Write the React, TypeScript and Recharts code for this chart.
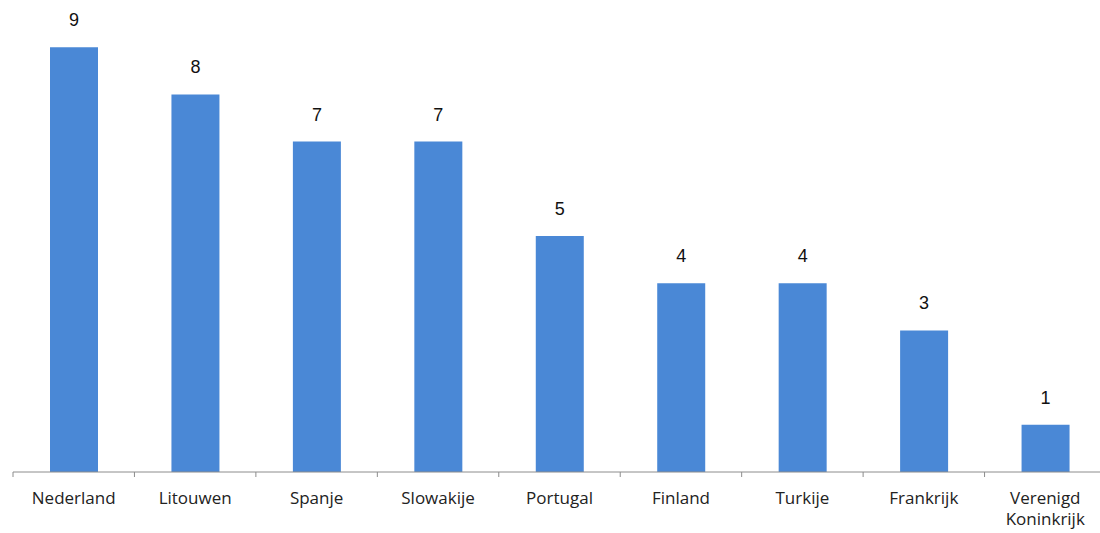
import React from 'react';
import { BarChart, Bar, XAxis, YAxis, LabelList } from 'recharts';

const countries = ['Nederland', 'Litouwen', 'Spanje', 'Slowakije', 'Portugal', 'Finland', 'Turkije', 'Frankrijk', 'Verenigd Koninkrijk'];
const counts = [9, 8, 7, 7, 5, 4, 4, 3, 1];

const data = countries.map((name, i) => ({ name, value: counts[i] }));

const CHART_W = 1110;
const MARGIN = { top: 0, right: 4, left: 13, bottom: 31 };
const BAND = (CHART_W - MARGIN.left - MARGIN.right) / countries.length;

// category label, wraps "Verenigd Koninkrijk" onto two lines,
// plus a small tick mark at the category boundary (Excel style)
const CountryTick = (props: any) => {
  const { x, y, payload, index } = props;
  const words: string[] = payload.value === 'Verenigd Koninkrijk' ? ['Verenigd', 'Koninkrijk'] : [payload.value];
  const axisY = y - 8;
  return (
    <g>
      <line x1={x - BAND / 2} x2={x - BAND / 2} y1={axisY} y2={axisY + 5} stroke="#8c8c8c" />
      {index === countries.length - 1 && (
        <line x1={x + BAND / 2} x2={x + BAND / 2} y1={axisY} y2={axisY + 5} stroke="#8c8c8c" />
      )}
      <text x={x} y={y + 24} textAnchor="middle" fill="#222" fontSize={17} fontFamily="'Open Sans', sans-serif">
        {words.map((w, i) => (
          <tspan key={w} x={x} dy={i === 0 ? 0 : 21}>{w}</tspan>
        ))}
      </text>
    </g>
  );
};

export default function App() {
  return (
    <div style={{ position: 'absolute', left: 0, top: 0, width: 1100, height: 533, background: '#fff', overflow: 'hidden' }}>
      <BarChart width={CHART_W} height={533} data={data} margin={MARGIN}>
        <XAxis
          dataKey="name"
          stroke="#8c8c8c"
          height={30}
          interval={0}
          tick={<CountryTick />}
          tickLine={false}
        />
        <YAxis hide domain={[0, 10]} />
        <Bar dataKey="value" fill="#4a88d6" barSize={48} isAnimationActive={false}>
          <LabelList dataKey="value" position="top" offset={21} fill="#111" fontSize={18} fontFamily="'Liberation Sans', Arial, sans-serif" />
        </Bar>
      </BarChart>
    </div>
  );
}
